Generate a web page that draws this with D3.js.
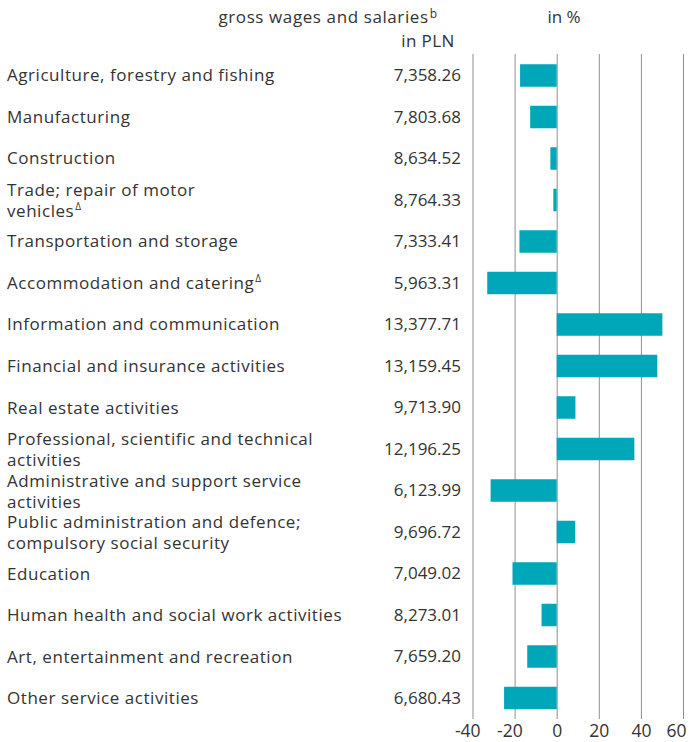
<!DOCTYPE html>
<html>
<head>
<meta charset="utf-8">
<script src="https://cdn.jsdelivr.net/npm/d3@7"></script>
<style>
  body { margin: 0; background: #fff; }
  svg text { font-family: "Open Sans", "Noto Sans", sans-serif; fill: #333; }
</style>
</head>
<body>
<svg id="chart" width="692" height="742"></svg>
<script>
const categories = [
	"Agriculture, forestry and fishing",
	"Manufacturing",
	"Construction",
	"Trade; repair of motor vehicles",
	"Transportation and storage",
	"Accommodation and catering",
	"Information and communication",
	"Financial and insurance activities",
	"Real estate activities",
	"Professional, scientific and technical activities",
	"Administrative and support service activities",
	"Public administration and defence; compulsory social security",
	"Education",
	"Human health and social work activities",
	"Art, entertainment and recreation",
	"Other service activities"
];

// how the labels break onto lines in the original
const labelLines = [
	["Agriculture, forestry and fishing"],
	["Manufacturing"],
	["Construction"],
	["Trade; repair of motor", "vehicles"],
	["Transportation and storage"],
	["Accommodation and catering"],
	["Information and communication"],
	["Financial and insurance activities"],
	["Real estate activities"],
	["Professional, scientific and technical", "activities"],
	["Administrative and support service", "activities"],
	["Public administration and defence;", "compulsory social security"],
	["Education"],
	["Human health and social work activities"],
	["Art, entertainment and recreation"],
	["Other service activities"]
];
const labelNotes = ["", "", "", "\u0394", "", "\u0394", "", "", "", "", "", "", "", "", "", ""];

const wages = [7358.26, 7803.68, 8634.52, 8764.33, 7333.41, 5963.31, 13377.71, 13159.45,
	9713.90, 12196.25, 6123.99, 9696.72, 7049.02, 8273.01, 7659.20, 6680.43];

const diffPct = [-17.4, -12.6, -3.0, -1.6, -17.7, -33.0, 50.2, 47.8,
	8.9, 36.9, -31.4, 8.8, -21.0, -7.2, -14.0, -25.0];

const xTicks = [-40, -20, 0, 20, 40, 60];

const FONT = 17;
const svg = d3.select("#chart");

const x = d3.scaleLinear().domain([-40, 60]).range([472.5, 683]);
const y = d3.scaleBand()
	.domain(categories)
	.range([54, 719.5])
	.paddingInner(0.458)
	.paddingOuter(0.247);

// headers
const head = svg.append("g").style("font-size", FONT + "px");
const h1 = head.append("text")
	.attr("x", 437).attr("y", 23)
	.attr("text-anchor", "end")
	.style("letter-spacing", "0.6px");
h1.append("tspan").text("gross wages and salaries");
h1.append("tspan").attr("dy", -5).attr("dx", 1).style("font-size", "12px").style("letter-spacing", "0").text("b");
head.append("text").attr("x", 428).attr("y", 47).attr("text-anchor", "middle")
	.style("letter-spacing", "0.4px").text("in PLN");
head.append("text").attr("x", 564).attr("y", 23).attr("text-anchor", "middle").text("in %");

// grid + tick labels
const axis = svg.append("g")
	.attr("transform", "translate(0," + 719 + ")")
	.call(d3.axisBottom(x)
		.tickValues(xTicks)
		.tickSize(-(719 - 54))
		.tickPadding(6)
		.tickFormat(d => d < 0 ? "-" + (-d) : d));
axis.select(".domain").remove();
axis.selectAll("line").attr("stroke", "#8f8f8f").attr("stroke-width", 1);
axis.selectAll("text")
	.style("font-size", "17.5px")
	.style("font-family", "'Open Sans', sans-serif")
	.attr("fill", "#333")
	.attr("dx", d => d < 0 ? "-0.3em" : 0);
// last label pulled inside the frame
axis.selectAll(".tick text")
	.filter(d => d == xTicks[xTicks.length - 1])
	.attr("text-anchor", "end")
	.attr("x", 3);

// bars
svg.append("g").selectAll("rect")
	.data(categories)
	.join("rect")
		.attr("x", (d, i) => x(Math.min(0, diffPct[i])))
		.attr("y", d => y(d))
		.attr("width", (d, i) => Math.abs(x(diffPct[i]) - x(0)))
		.attr("height", y.bandwidth())
		.attr("fill", "#00a7b9");

// wage values
svg.append("g").selectAll("text")
	.data(categories)
	.join("text")
		.attr("x", 461)
		.attr("y", d => y(d) + y.bandwidth() / 2)
		.attr("dy", "0.35em")
		.attr("text-anchor", "end")
		.style("font-size", FONT + "px")
		.text((d, i) => d3.format(",.2f")(wages[i]));

// category labels
const labels = svg.append("g").selectAll("text")
	.data(categories)
	.join("text")
		.attr("x", 7)
		.attr("y", (d, i) => y(d) + y.bandwidth() / 2 + (labelLines[i].length > 1 ? -4 : 6))
		.style("font-size", FONT + "px")
		.style("letter-spacing", "0.55px");

labels.each(function(d, i) {
	const t = d3.select(this);
	labelLines[i].forEach((line, k) => {
		t.append("tspan")
			.attr("x", 7)
			.attr("dy", k == 0 ? 0 : 21)
			.text(line);
	});
	if (labelNotes[i] != "") {
		t.append("tspan")
			.attr("dy", -7)
			.attr("dx", 1)
			.style("font-size", "10px")
			.style("letter-spacing", "0")
			.text(labelNotes[i]);
	}
});
</script>
</body>
</html>
